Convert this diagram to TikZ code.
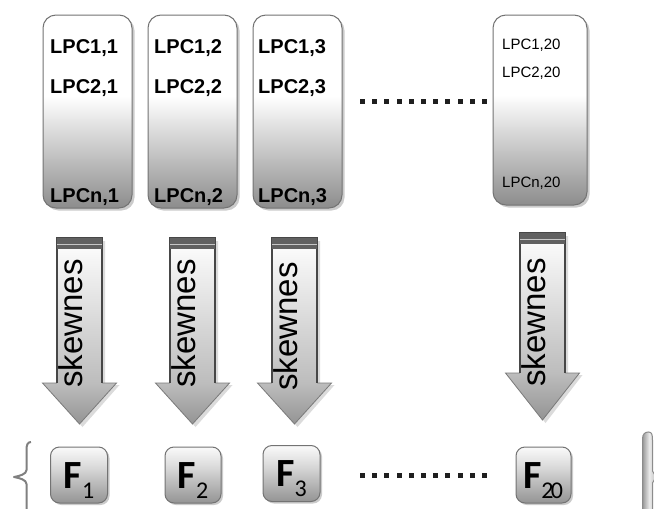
\documentclass[tikz,border=0pt]{standalone}
\usepackage{fontspec}
\setmainfont{Liberation Sans}
\newfontfamily\carlito{Carlito}
\usetikzlibrary{shadows}
% white upper part fading to grey at the bottom
\pgfdeclareverticalshading{lpcshade}{100bp}{color(0bp)=(black!45); color(25bp)=(black!45); color(54bp)=(white); color(75bp)=(white); color(100bp)=(white)}
\pgfdeclareverticalshading{fshade}{100bp}{color(0bp)=(black!42); color(25bp)=(black!42); color(58bp)=(black!14); color(75bp)=(black!2); color(100bp)=(black!2)}
\pgfdeclarehorizontalshading{brshade}{100bp}{color(0bp)=(black!40); color(25bp)=(black!40); color(50bp)=(black!8); color(75bp)=(black!25); color(100bp)=(black!25)}
\begin{document}
\begin{tikzpicture}[x=1pt,y=-1pt,
  lpcbox/.style={draw=black!55, line width=1pt, rounded corners=13pt, shade, shading=lpcshade,
    drop shadow={shadow xshift=2.5pt, shadow yshift=-2.5pt, fill=black!40, opacity=0.5}},
  fbox/.style={draw=black!55, line width=1pt, rounded corners=9pt, shade, shading=fshade,
    minimum width=57pt, minimum height=56pt,
    drop shadow={shadow xshift=2pt, shadow yshift=-2pt, fill=black!40, opacity=0.5}},
  lpcbold/.style={font=\fontsize{20}{22}\selectfont\bfseries, inner sep=0pt, anchor=base west},
  lpcthin/.style={font=\fontsize{15}{18}\selectfont, inner sep=0pt, anchor=base west},
  skewtext/.style={font=\fontsize{33}{36}\selectfont, inner sep=0pt, rotate=90, anchor=base west},
  flabel/.style={font=\carlito, inner sep=0pt, anchor=base},
  dotfill/.style={fill=black!88}
]
\useasboundingbox (0,0) rectangle (654,509);
\fill[white] (0,0) rectangle (654,509);

% ---- coefficient columns ----
\node[lpcbox, minimum width=89pt, minimum height=193pt] (c1) at (87.5,111.5) {};
\node[lpcbox, minimum width=89pt, minimum height=193pt] (c2) at (192.5,111.5) {};
\node[lpcbox, minimum width=89pt, minimum height=193pt] (c3) at (297.5,111.5) {};
\node[lpcbox, minimum width=94pt, minimum height=190pt] (c20) at (540,110) {};

\node[lpcbold] (c1a) at (50,53) {LPC1,1};
\node[lpcbold] (c1b) at (50,93) {LPC2,1};
\node[lpcbold] (c1n) at (50,202) {LPCn,1};
\node[lpcbold] (c2a) at (154,53) {LPC1,2};
\node[lpcbold] (c2b) at (154,93) {LPC2,2};
\node[lpcbold] (c2n) at (154,202) {LPCn,2};
\node[lpcbold] (c3a) at (258,53) {LPC1,3};
\node[lpcbold] (c3b) at (258,93) {LPC2,3};
\node[lpcbold] (c3n) at (258,202) {LPCn,3};
\node[lpcthin] (c20a) at (502,49) {LPC1,20};
\node[lpcthin] (c20b) at (502,77) {LPC2,20};
\node[lpcthin] (c20n) at (502,187) {LPCn,20};

% ellipsis between the columns and below
\foreach \i in {0,...,10} {
  \fill[dotfill] (360+\i*12.2,98.5) rectangle ++(5,5);
  \fill[dotfill] (360+\i*12.2,473) rectangle ++(5,5);
}

% ---- block arrows labelled "skewnes" ----
\foreach \n/\c/\t/\hb/\tip/\s in {1/79.5/238/383/424/388, 2/192.5/238/383/424/388, 3/294.5/238/383/424/391, 20/542.5/233/373/420/387} {
  % soft shadow
  \fill[black!14] (\c-19.5,\t+3) -- (\c+25.5,\t+3) -- (\c+25.5,\hb+2) -- (\c+40,\hb+2)
      -- (\c+3,\tip+3) -- (\c-34,\hb+2) -- (\c-19.5,\hb+2) -- cycle;
  % head
  \shade[top color=black!26, bottom color=black!42, draw=black!52, line width=0.8pt]
      (\c-37,\hb) -- (\c+37,\hb) -- (\c,\tip) -- cycle;
  % shaft
  \shade[top color=white, bottom color=black!26] (\c-22.5,\t) rectangle (\c+22.5,\hb);
  \draw[black!72, line width=1.2pt] (\c-22.5,\hb) -- (\c-22.5,\t) -- (\c+22.5,\t) -- (\c+22.5,\hb);
  % top band
  \fill[black!62] (\c-22.5,\t) rectangle (\c+22.5,\t+11);
  \draw[black!22, line width=1.4pt] (\c-22.5,\t+6.5) -- (\c+22.5,\t+6.5);
  \node[skewtext] (s\n) at (\c+2.5,\s) {skewnes};
}

% ---- feature boxes ----
\node[fbox] (f1) at (79,475) {};
\node[fbox, minimum width=56pt] (f2) at (193,475) {};
\node[fbox] (f3) at (291.5,473.5) {};
\node[fbox, minimum width=55pt] (f20) at (543.5,475) {};

\node[flabel] (f1t) at (79,488) {{\fontsize{40}{40}\selectfont\bfseries F}\raisebox{-10pt}{\fontsize{24}{24}\selectfont 1}};
\node[flabel] (f2t) at (193,488) {{\fontsize{40}{40}\selectfont\bfseries F}\raisebox{-10pt}{\fontsize{24}{24}\selectfont 2}};
\node[flabel] (f3t) at (291.5,486.5) {{\fontsize{40}{40}\selectfont\bfseries F}\raisebox{-10pt}{\fontsize{24}{24}\selectfont 3}};
\node[flabel] (f20t) at (543.5,488) {{\fontsize{40}{40}\selectfont\bfseries F}\raisebox{-10pt}{\fontsize{24}{24}\selectfont\kern-1pt 2\kern-2.5pt0}};

% ---- braces at the row ends ----
\draw[black!50, line width=2pt, line join=round]
  (31,442) .. controls (27.5,442) and (26.5,445) .. (26.5,450) -- (26.5,470)
  .. controls (26.5,474) and (20,476) .. (14,477)
  .. controls (20,478) and (26.5,480) .. (26.5,484) -- (26.5,512);
\shade[shading=brshade, draw=black!45, line width=1pt]
  (642.5,512) -- (642.5,439) .. controls (642.5,434) and (645,432) .. (648.5,432)
  .. controls (652,432) and (652.5,435) .. (652.5,440) -- (652.5,471) -- (656,477)
  -- (652.5,483) -- (652.5,512) -- cycle;
\end{tikzpicture}
\end{document}
